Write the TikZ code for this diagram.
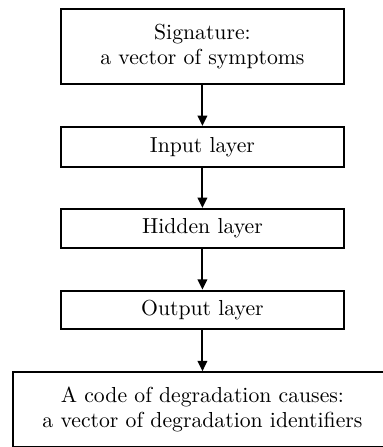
\documentclass[tikz,border=0pt]{standalone}
\usetikzlibrary{arrows.meta}

\tikzset{
  stage/.style={draw=black, line width=0.95pt, rectangle, align=center,
    inner sep=0pt, minimum width=131.6pt,
    font=\fontsize{10.1}{11.6}\selectfont},
  flow/.style={line width=0.95pt, -{Triangle[length=4.8pt,width=4.4pt]}}
}

\begin{document}
\begin{tikzpicture}
  % page frame; the lowest box runs past the right and bottom edges
  \useasboundingbox (0pt,0pt) rectangle (178.1pt,-207.9pt);

  \node[stage, minimum height=34.9pt] (sig) at (94.16pt,-21.62pt)
    {Signature:\\a vector of symptoms};
  \node[stage, minimum height=18.6pt] (inp) at (94.16pt,-68.36pt)
    {Input layer};
  \node[stage, minimum height=18.1pt] (hid) at (94.16pt,-106.25pt)
    {Hidden layer};
  \node[stage, minimum height=17.9pt] (out) at (94.16pt,-144.15pt)
    {Output layer};
  \node[stage, minimum width=176.5pt, minimum height=34.9pt] (code)
    at (94.16pt,-190.6pt)
    {A code of degradation causes:\\a vector of degradation identifiers};

  \draw[flow] (sig.south) -- (inp.north);
  \draw[flow] (inp.south) -- (hid.north);
  \draw[flow] (hid.south) -- (out.north);
  \draw[flow] (out.south) -- (code.north);
\end{tikzpicture}
\end{document}
